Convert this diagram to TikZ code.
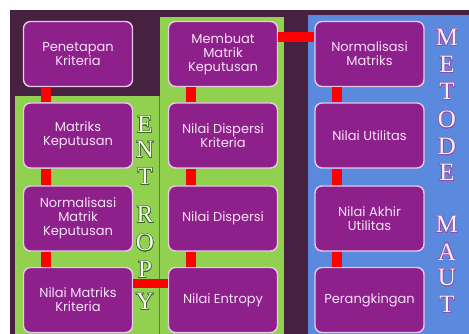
\documentclass[tikz,border=0pt]{standalone}
\usepackage{fontspec}
\setmainfont{Poppins}
\newfontfamily\serifletters{Liberation Serif}
\usepackage[copies]{contour}
\contourlength{0.5pt}
\definecolor{bgdark}{RGB}{70,34,64}
\definecolor{panelgreen}{RGB}{146,208,80}
\definecolor{panelblue}{RGB}{91,137,221}
\definecolor{boxfill}{RGB}{142,32,140}
\definecolor{boxline}{RGB}{232,200,232}
\definecolor{boxtext}{RGB}{246,226,246}
\definecolor{connred}{RGB}{255,0,0}
\definecolor{sepline}{RGB}{120,110,80}
\definecolor{entfill}{RGB}{246,252,240}
\definecolor{entline}{RGB}{60,100,40}
\definecolor{mautfill}{RGB}{252,236,248}
\definecolor{mautline}{RGB}{140,80,170}
\begin{document}
\begin{tikzpicture}[x=1pt,y=-1pt,
  stepbox/.style={draw=boxline,line width=1.4pt,fill=boxfill,rounded corners=7pt,
    minimum width=109pt,minimum height=65pt,text=boxtext,align=center,
    font=\fontsize{13}{14}\selectfont,inner sep=1pt},
  conn/.style={draw=connred,line width=10pt},
  entl/.style={font=\serifletters\fontsize{25}{25}\selectfont,inner sep=0pt},
]
\useasboundingbox (0,0) rectangle (469,334);
\fill[white] (0,0) rectangle (469,334);
\fill[bgdark] (10,10) rectangle (469,334);
\fill[panelgreen] (15,96) rectangle (160,334);
\fill[panelgreen] (160,17) rectangle (284,334);
\fill[panelblue] (308,15) rectangle (469,334);
\draw[sepline,line width=1pt] (159.5,96) -- (159.5,334);

% left column
\node[stepbox] (pk) at (78,54) {Penetapan\\Kriteria};
\node[stepbox] (mk) at (78,135.5) {Matriks\\Keputusan};
\node[stepbox] (nmk) at (78,218.5) {Normalisasi\\Matrik\\Keputusan};
\node[stepbox] (nmkr) at (78,300) {Nilai Matriks\\Kriteria};
% middle column
\node[stepbox] (bmk) at (223,54) {Membuat\\Matrik\\Keputusan};
\node[stepbox] (ndk) at (223,135.5) {Nilai Dispersi\\Kriteria};
\node[stepbox] (nd) at (223,218.5) {Nilai Dispersi};
\node[stepbox] (ne) at (223,300) {Nilai Entropy};
% right column
\node[stepbox] (nm) at (369.5,54) {Normalisasi\\Matriks};
\node[stepbox] (nu) at (369.5,135.5) {Nilai Utilitas};
\node[stepbox] (nau) at (369.5,218.5) {Nilai Akhir\\Utilitas};
\node[stepbox] (pr) at (369.5,300) {Perangkingan};

% connectors
\foreach \a/\b in {pk/mk,mk/nmk,nmk/nmkr,bmk/ndk,ndk/nd,nd/ne,nm/nu,nu/nau,nau/pr}
  \draw[conn] ([xshift=-32.5pt]\a.south) -- ([xshift=-32.5pt]\b.north);
\draw[conn] ([yshift=17pt]bmk.east) -- ([yshift=17pt]nm.west);
\draw[conn,line width=9pt] ([yshift=16.5pt]nmkr.east) -- ([yshift=16.5pt]ne.west);

% ENTROPY letters
\foreach \l/\y [count=\i] in {E/125,N/150,T/177,R/215,O/243,P/270,Y/302}
  \node[entl] (ent\i) at (145,\y) {\contour{entline}{\textcolor{entfill}{\l}}};
% METODE MAUT letters
\foreach \l/\y [count=\i] in {M/38,E/65,T/92,O/120,D/147,E/173,M/225,A/252,U/278,T/305}
  \node[entl] (mt\i) at (447,\y) {\contour{mautline}{\textcolor{mautfill}{\l}}};
\end{tikzpicture}
\end{document}
